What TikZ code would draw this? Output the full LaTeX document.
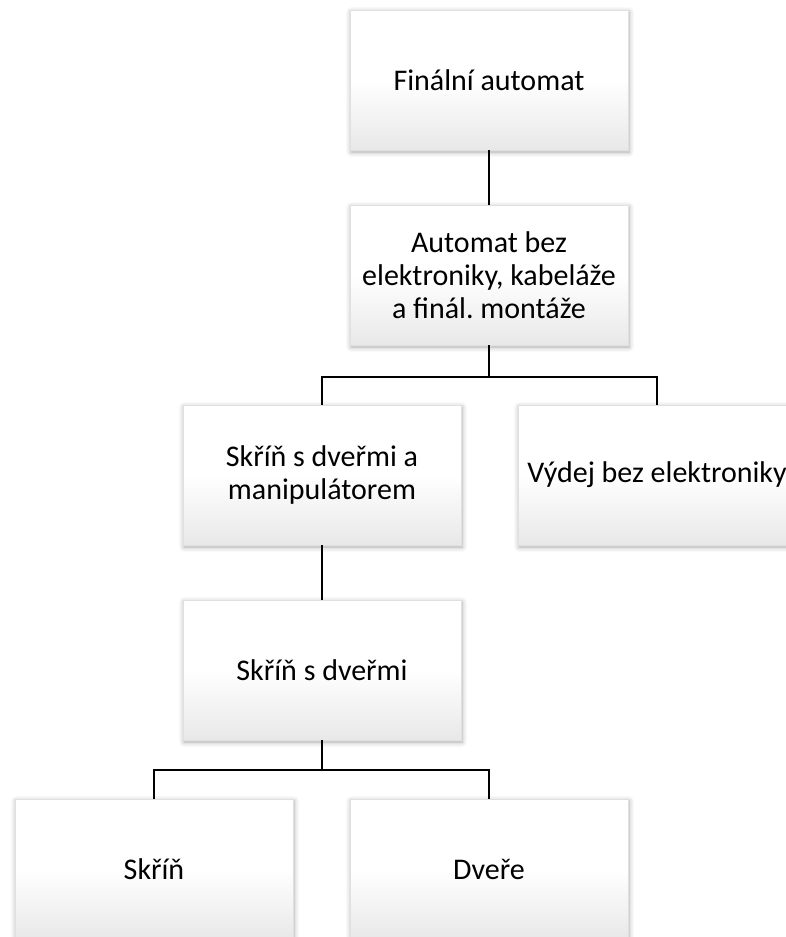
\documentclass[tikz,border=0pt]{standalone}
\usepackage{fontspec}
\setmainfont{Carlito}
\usetikzlibrary{shadows.blur}
\frenchspacing

\begin{document}
\begin{tikzpicture}[x=1pt,y=-1pt,
  part/.style={minimum width=278pt,minimum height=140pt,align=center,
    top color=white,bottom color=black!9,middle color=white,
    draw=black!12,line width=0.4pt,
    blur shadow={shadow xshift=1pt,shadow yshift=-2pt,shadow blur radius=5pt,shadow opacity=35},
    font=\fontsize{30}{33}\selectfont},
  link/.style={line width=1.8pt}]
\clip (0,0) rectangle (786,937);
\node[part] (fin) at (489,80) {Finální automat};
\node[part] (bez) at (489,275) {Automat bez\\elektroniky, kabeláže\\a finál.\ montáže};
\node[part] (skrman) at (322,475) {Skříň s dveřmi a\\manipulátorem};
\node[part] (vydej) at (657,475) {Výdej bez elektroniky};
\node[part] (skrdv) at (322,670) {Skříň s dveřmi};
\node[part] (skrin) at (154,869) {Skříň};
\node[part] (dvere) at (489,869) {Dveře};
\draw[link] (fin.south) -- (bez.north);
\draw[link] (bez.south) -- (bez.south |- 0,377) -| (skrman.north);
\draw[link] (bez.south |- 0,377) -| (vydej.north);
\draw[link] (skrman.south) -- (skrdv.north);
\draw[link] (skrdv.south) -- (skrdv.south |- 0,770) -| (skrin.north);
\draw[link] (skrdv.south |- 0,770) -| (dvere.north);
\end{tikzpicture}
\end{document}
